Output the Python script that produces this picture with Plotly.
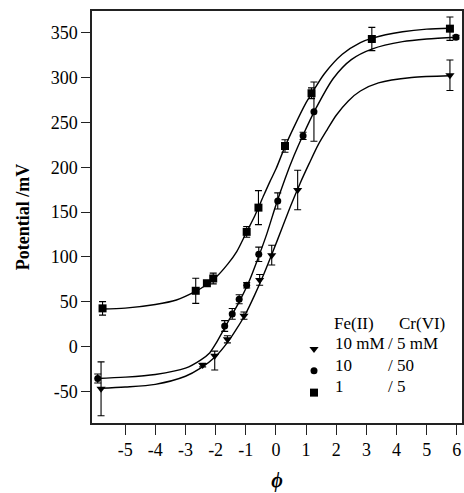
import plotly.graph_objects as go

# ---------------- data ----------------
# Fe(II) 10 mM / Cr(VI) 5 mM  (triangles)
tri_x = [-5.80, -2.43, -2.03, -1.61, -1.06, -0.54, -0.14, 0.72, 5.77]
tri_y = [-47.0, -20.5, -10.0, 8.2, 34.6, 74.4, 102.0, 174.7, 302.5]
tri_ep = [30, 2, 5, 4, 4, 6, 11, 22, 17]
tri_em = [30, 2, 16, 4, 4, 6, 11, 22, 17]

# Fe(II) 10 / Cr(VI) 50  (circles)
cir_x = [-5.91, -1.70, -1.45, -1.22, -0.97, -0.57, 0.06, 0.90, 1.26, 5.97]
cir_y = [-35.5, 23.0, 36.5, 52.8, 68.4, 103.0, 162.4, 235.0, 262.0, 345.0]
cir_e = [5, 6, 6, 5, 3, 8, 9, 4, 33, 2]

# Fe(II) 1 / Cr(VI) 5  (squares)
sq_x = [-5.75, -2.66, -2.29, -2.08, -0.97, -0.58, 0.30, 1.18, 3.18, 5.77]
sq_y = [42.7, 62.3, 70.7, 76.0, 128.0, 155.0, 223.7, 282.5, 343.0, 354.5]
sq_e = [7.5, 14, 3, 6, 6, 19, 7, 6, 13, 13]

# fitted curves
fit_tri_x = [-5.83, -5.0, -4.0, -3.0, -2.5, -2.0, -1.6, -1.3, -1.0, -0.7, -0.4, -0.1,
             0.2, 0.5, 0.8, 1.1, 1.4, 1.7, 2.0, 2.4, 2.8, 3.4, 4.5, 5.77]
fit_tri_y = [-46.4, -45, -42, -33, -24, -11, 5, 20, 37, 58, 81, 106,
             132, 158, 182, 204, 225, 242, 258, 274, 285, 294, 300, 302]

fit_cir_x = [-5.94, -5.0, -4.0, -3.0, -2.5, -2.2, -2.0, -1.7, -1.45, -1.2, -0.9, -0.6,
             -0.3, 0.0, 0.3, 0.6, 0.9, 1.3, 1.9, 2.5, 3.2, 4.2, 5.0, 5.99]
fit_cir_y = [-35.5, -34, -31, -24, -15, -7, 3, 21, 36, 51, 72, 98,
             126, 158, 187, 213, 236, 264, 299, 320, 332, 340, 343, 345]

fit_sq_x = [-5.75, -5.0, -4.0, -3.3, -2.7, -2.3, -2.0, -1.6, -1.3, -1.0, -0.7, -0.4,
            -0.2, 0.0, 0.3, 0.6, 1.0, 1.2, 1.6, 2.2, 2.8, 3.2, 4.2, 5.0, 5.77]
fit_sq_y = [42, 43, 47, 52, 61, 69, 77, 92, 106, 126, 146, 169,
            184, 198, 223, 245, 272, 283, 304, 326, 339, 344, 351, 354, 355]

x_ticks = [-5, -4, -3, -2, -1, 0, 1, 2, 3, 4, 5, 6]
y_ticks = [-50, 0, 50, 100, 150, 200, 250, 300, 350]

legend_header = ["Fe(II)", "Cr(VI)"]
legend_fe = ["10 mM", "10", "1"]
legend_cr = ["/ 5 mM", "/ 50", "/ 5"]

# ---------------- figure ----------------
FONT = "Liberation Serif"
fig = go.Figure()

for fx, fy in [(fit_tri_x, fit_tri_y), (fit_cir_x, fit_cir_y), (fit_sq_x, fit_sq_y)]:
    fig.add_trace(go.Scatter(x=fx, y=fy, mode="lines", showlegend=False,
                             line=dict(color="black", width=1.4, shape="spline", smoothing=0.8),
                             hoverinfo="skip"))

err_style = dict(type="data", color="black", thickness=1.1, width=3.5, visible=True)

fig.add_trace(go.Scatter(x=tri_x, y=tri_y, mode="markers", name=" ",
                         marker=dict(symbol="triangle-down", size=8, color="black"),
                         error_y=dict(array=tri_ep, arrayminus=tri_em, symmetric=False, **err_style)))
fig.add_trace(go.Scatter(x=cir_x, y=cir_y, mode="markers", name=" ",
                         marker=dict(symbol="circle", size=7, color="black"),
                         error_y=dict(array=cir_e, **err_style)))
fig.add_trace(go.Scatter(x=sq_x, y=sq_y, mode="markers", name=" ",
                         marker=dict(symbol="square", size=8, color="black"),
                         error_y=dict(array=sq_e, **err_style)))

axis_common = dict(showline=True, linecolor="#222", linewidth=1.5, mirror=True,
                   ticks="outside", tickcolor="#222", tickwidth=1.3,
                   showgrid=False, zeroline=False, automargin=False,
                   tickfont=dict(family=FONT, size=18, color="black"))

fig.update_xaxes(range=[-6.10, 6.17], tickvals=x_ticks, ticktext=[str(v) for v in x_ticks],
                 ticklen=10,
                 title=dict(text="<b><i>\u03d5</i></b>", font=dict(family=FONT, size=20, color="black"),
                            standoff=14),
                 **axis_common)
fig.update_yaxes(range=[-85.1, 374.2], tickvals=y_ticks, ticktext=[str(v) for v in y_ticks],
                 ticklen=9,
                 title=dict(text="<b>Potential /mV</b>", font=dict(family=FONT, size=18, color="black"),
                            standoff=16),
                 **axis_common)

# legend text as annotations (paper coords of the plot area: x 92..462 px, y 11..423 px)
def px(xp):
    return (xp - 92) / 370.0

def py(yp):
    return (423 - yp) / 412.0

ann_font = dict(family=FONT, size=17, color="black")
anns = [
    dict(text=legend_header[0], x=px(331.5), y=py(323), xanchor="left", yanchor="middle"),
    dict(text=legend_header[1], x=px(396.5), y=py(323), xanchor="left", yanchor="middle"),
]
row_y = [343.3, 365.0, 386.7]
for i in range(3):
    anns.append(dict(text=legend_fe[i], x=px(332.5), y=py(row_y[i]), xanchor="left", yanchor="middle"))
    anns.append(dict(text=legend_cr[i], x=px(385.5), y=py(row_y[i]), xanchor="left", yanchor="middle"))
for a in anns:
    a.update(xref="paper", yref="paper", showarrow=False, font=ann_font)

fig.update_layout(
    width=464, height=493,
    margin=dict(l=92, r=2, t=11, b=70),
    paper_bgcolor="white", plot_bgcolor="white",
    font=dict(family=FONT, size=17, color="black"),
    showlegend=True,
    legend=dict(x=px(294), y=py(333), xanchor="left", yanchor="top",
                bgcolor="rgba(0,0,0,0)", borderwidth=0,
                font=dict(family=FONT, size=14.5, color="black"),
                itemwidth=30, tracegroupgap=0),
    annotations=anns,
)

fig.write_html("out.html", config={"displayModeBar": False},
               post_script="document.body.style.margin='0';document.body.style.overflow='hidden';")
